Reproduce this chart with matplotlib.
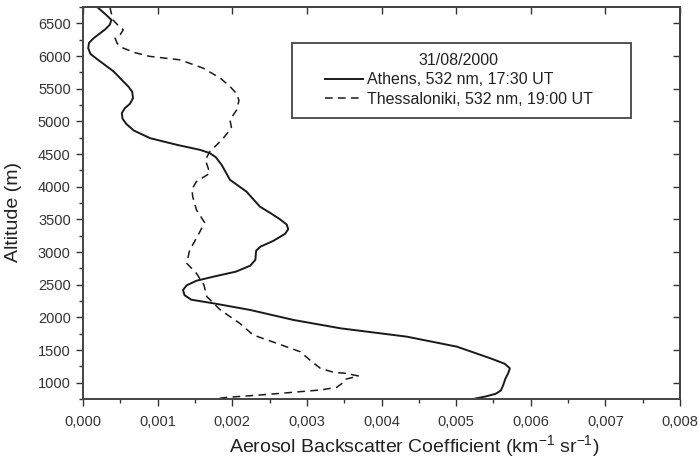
import numpy as np
import matplotlib
matplotlib.use("Agg")
import matplotlib.pyplot as plt
from matplotlib.ticker import MultipleLocator, FuncFormatter
from matplotlib.patches import Rectangle

plt.rcParams['font.family'] = ['Liberation Sans', 'DejaVu Sans']
plt.rcParams['mathtext.fontset'] = 'custom'
plt.rcParams['mathtext.rm'] = 'Liberation Sans'

# Athens, 532 nm, 17:30 UT
athens_beta = [0.00019, 0.00030, 0.00038, 0.00036, 0.00030, 0.00022, 0.00014, 0.00008, 0.00007,
               0.00010, 0.00023, 0.00041, 0.00054, 0.00061, 0.00066, 0.00067, 0.00063, 0.00056,
               0.00052, 0.00053, 0.00058, 0.00068, 0.00090, 0.00126, 0.00157, 0.00170, 0.00178,
               0.00186, 0.00197, 0.00219, 0.00237, 0.00252, 0.00264, 0.00273, 0.00275, 0.00271,
               0.00255, 0.00238, 0.00232, 0.00231, 0.00224, 0.00205, 0.00175, 0.00152, 0.00139,
               0.00134, 0.00136, 0.00145, 0.00175, 0.00224, 0.00282, 0.00345, 0.00434, 0.00501,
               0.00546, 0.00565, 0.00572, 0.00570, 0.00566, 0.00563, 0.00560, 0.00553, 0.00540,
               0.00523]
athens_alt = [6750, 6640, 6554, 6480, 6410, 6340, 6270, 6200, 6120,
              6030, 5917, 5764, 5611, 5530, 5450, 5355, 5270, 5200,
              5125, 5040, 4960, 4860, 4742, 4640, 4563, 4513, 4450,
              4330, 4104, 3925, 3695, 3590, 3500, 3420, 3350, 3280,
              3170, 3083, 3020, 2880, 2790, 2700, 2623, 2560, 2490,
              2419, 2340, 2270, 2214, 2113, 1960, 1832, 1704, 1551,
              1373, 1290, 1220, 1150, 1060, 960, 880, 830, 790,
              750]

# Thessaloniki, 532 nm, 19:00 UT
thess_beta = [0.00036, 0.00040, 0.00047, 0.00054, 0.00050, 0.00043, 0.00046, 0.00054, 0.00070,
              0.00089, 0.00130, 0.00161, 0.00184, 0.00197, 0.00206, 0.00209, 0.00206, 0.00197,
              0.00199, 0.00186, 0.00170, 0.00164, 0.00170, 0.00152, 0.00146, 0.00147, 0.00152,
              0.00163, 0.00152, 0.00143, 0.00139, 0.00152, 0.00162, 0.00166, 0.00184, 0.00210,
              0.00228, 0.00260, 0.00291, 0.00304, 0.00318, 0.00336, 0.00353, 0.00369, 0.00351,
              0.00347, 0.00340, 0.00318, 0.00291, 0.00264, 0.00237, 0.00193, 0.00175]
thess_alt = [6750, 6554, 6470, 6401, 6330, 6273, 6190, 6120, 6050,
             5995, 5941, 5814, 5661, 5533, 5420, 5320, 5176, 5023,
             4896, 4716, 4538, 4410, 4206, 4079, 3960, 3849, 3644,
             3450, 3211, 3032, 2828, 2674, 2496, 2317, 2113, 1909,
             1730, 1601, 1474, 1347, 1220, 1158, 1142, 1102, 1050,
             989, 928, 888, 862, 836, 811, 775, 750]

W, H = 698, 459
fig = plt.figure(figsize=(W / 100, H / 100), dpi=100)
ax = fig.add_axes([83 / W, 1 - 399 / H, (680 - 83) / W, (399 - 7) / H])

line_color = '#1a1a1a'
ax.plot(athens_beta, athens_alt, color=line_color, linewidth=1.4,
        label='Athens, 532 nm, 17:30 UT')
ax.plot(thess_beta, thess_alt, color=line_color, linewidth=1.1, dashes=(5, 3.5),
        label='Thessaloniki, 532 nm, 19:00 UT')

ax.set_xlim(0, 0.008)
ax.set_ylim(750, 6750)
ax.xaxis.set_major_locator(MultipleLocator(0.001))
ax.xaxis.set_minor_locator(MultipleLocator(0.0005))
ax.set_yticks(np.arange(1000, 6501, 500))
ax.yaxis.set_minor_locator(MultipleLocator(250))
ax.xaxis.set_major_formatter(FuncFormatter(lambda v, p: ('%.3f' % v).replace('.', ',')))

ax.tick_params(which='major', direction='out', length=5.3, width=1, labelsize=10.5, colors='#333333')
ax.tick_params(which='minor', direction='out', length=2.6, width=1, colors='#333333')
ax.tick_params(axis='x', pad=6)
ax.tick_params(axis='y', pad=3.5)

# mirrored ticks on top and right, inward, majors only
top = ax.secondary_xaxis('top')
top.xaxis.set_major_locator(MultipleLocator(0.001))
top.tick_params(direction='in', length=5.3, width=1, labeltop=False, colors='#333333')
right = ax.secondary_yaxis('right')
right.set_yticks(np.arange(1000, 6501, 500))
right.tick_params(direction='in', length=5.3, width=1, labelright=False, colors='#333333')

for s in list(ax.spines.values()) + [top.spines['top'], right.spines['right']]:
    s.set_linewidth(1.4)
    s.set_color('#444444')

xl = ax.set_xlabel(r'Aerosol Backscatter Coefficient (km$^{\mathregular{-1}}$ sr$^{\mathregular{-1}}$)',
                   fontsize=14, color='#222222')
xl.set_va('baseline')
ax.xaxis.set_label_coords((414 - 83) / 597, -(453 - 399) / 392)
ax.set_ylabel('Altitude (m)', fontsize=14, color='#222222')
ax.yaxis.set_label_coords((22 - 83) / 597, (399 - 212) / 392)

leg = ax.legend(title='31/08/2000', loc='upper left',
                bbox_to_anchor=(325 / W, 1 - 53 / H), bbox_transform=fig.transFigure,
                fontsize=11.5, title_fontsize=11.5, frameon=False,
                handlelength=2.4, handletextpad=0.2,
                borderpad=0, labelspacing=0.28, borderaxespad=0)
for t in leg.get_texts():
    t.set_color('#222222')
leg.get_title().set_color('#222222')
fig.add_artist(Rectangle((292 / W, 1 - 118 / H), (631 - 292) / W, (118 - 43) / H,
                         transform=fig.transFigure, fill=False,
                         edgecolor='#444444', linewidth=1.3))

fig.savefig('out.png', dpi=100)
